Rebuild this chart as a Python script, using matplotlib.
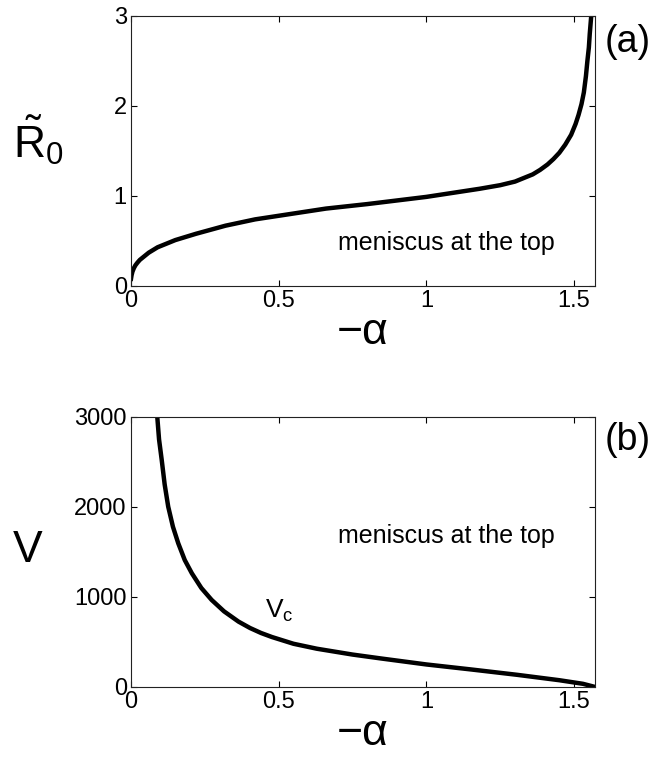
import matplotlib

matplotlib.use("Agg")
import matplotlib.pyplot as plt

plt.rcParams["font.family"] = ["Liberation Sans", "DejaVu Sans"]
plt.rcParams["mathtext.fontset"] = "custom"
plt.rcParams["mathtext.rm"] = "Liberation Sans"
plt.rcParams["mathtext.it"] = "Liberation Sans"

# panel (a): R0 tilde versus -alpha
alpha_a = [0.0, 0.002, 0.005, 0.01, 0.015, 0.022, 0.03, 0.045, 0.06, 0.09,
           0.12, 0.15, 0.22, 0.32, 0.42, 0.5, 0.66, 0.8, 1.0, 1.1, 1.18,
           1.25, 1.30, 1.33, 1.36, 1.385, 1.41, 1.43, 1.45, 1.47, 1.49,
           1.505, 1.515, 1.525, 1.533, 1.54, 1.545, 1.55, 1.553, 1.558]
r0 = [0.08, 0.12, 0.16, 0.20, 0.23, 0.26, 0.29, 0.33, 0.37, 0.43,
      0.47, 0.51, 0.58, 0.67, 0.74, 0.78, 0.86, 0.91, 0.99, 1.04, 1.08,
      1.12, 1.16, 1.20, 1.24, 1.29, 1.35, 1.41, 1.48, 1.57, 1.68,
      1.80, 1.90, 2.02, 2.15, 2.33, 2.5, 2.65, 2.8, 3.0]

# panel (b): critical volume versus -alpha
alpha_b = [0.089, 0.095, 0.104, 0.114, 0.126, 0.142, 0.160, 0.182, 0.206,
           0.238, 0.273, 0.315, 0.364, 0.403, 0.44, 0.477, 0.55, 0.629,
           0.75, 0.85, 1.0, 1.15, 1.307, 1.45, 1.53, 1.571]
vc = [3000, 2750, 2522, 2250, 2003, 1780, 1596, 1410, 1263,
      1100, 967, 840, 726, 655, 600, 555, 480, 425,
      360, 315, 250, 195, 135, 75, 35, 0]

xticks = [0, 0.5, 1, 1.5]
xlabels = ["0", "0.5", "1", "1.5"]
XMAX = 1.5708

fig = plt.figure(figsize=(6.69, 7.6), dpi=100)
ax1 = fig.add_axes([0.1958, 0.6237, 0.6936, 0.3553])
ax2 = fig.add_axes([0.1958, 0.0961, 0.6936, 0.3553])

for ax in (ax1, ax2):
    ax.set_xlim(0, XMAX)
    ax.set_xticks(xticks)
    ax.set_xticklabels(xlabels)
    ax.tick_params(direction="in", length=4, width=0.8, labelsize=17,
                   top=True, right=True, pad=3)
    for s in ax.spines.values():
        s.set_linewidth(0.8)
        s.set_color("#222222")
    ax.set_xlabel("\u2212\u03b1", fontsize=32, labelpad=0)

ax1.plot(alpha_a, r0, color="k", lw=3.2, solid_joinstyle="round")
ax1.set_ylim(0, 3)
ax1.set_yticks([0, 1, 2, 3])
ax1.text(0.702, 0.40, "meniscus at the top", fontsize=18, ha="left", va="baseline")
ax1.text(-0.20, 0.54, r"$\tilde{\mathrm{R}}_0$", fontsize=32, ha="center", va="center",
         transform=ax1.transAxes)
ax1.text(1.02, 0.905, "(a)", fontsize=27, ha="left", va="center", transform=ax1.transAxes)

ax2.plot(alpha_b, vc, color="k", lw=3.2, solid_joinstyle="round")
ax2.set_ylim(0, 3000)
ax2.set_yticks([0, 1000, 2000, 3000])
ax2.text(0.702, 1600, "meniscus at the top", fontsize=18, ha="left", va="baseline")
ax2.text(0.454, 767, r"$\mathrm{V_c}$", fontsize=19, ha="left", va="baseline")
ax2.text(-0.222, 0.504, "V", fontsize=32, ha="center", va="center",
         transform=ax2.transAxes)
ax2.text(1.02, 0.915, "(b)", fontsize=27, ha="left", va="center", transform=ax2.transAxes)

fig.savefig("out.png", dpi=100, facecolor="white")
